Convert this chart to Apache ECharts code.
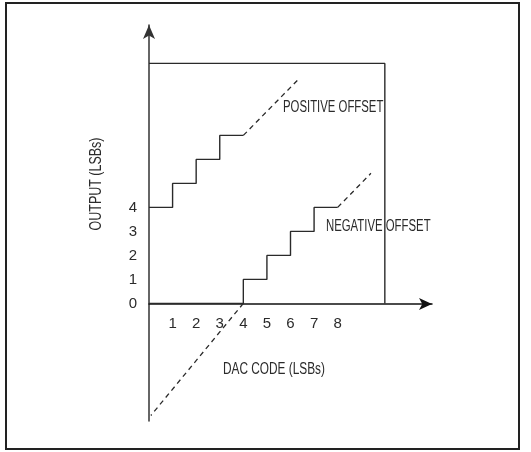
<!DOCTYPE html>
<html>
<head>
<meta charset="utf-8">
<script src="https://cdn.jsdelivr.net/npm/echarts@6/dist/echarts.min.js"></script>
<style>
html,body{margin:0;padding:0;background:#fff;}
#chart{width:531px;height:452px;}
</style>
</head>
<body>
<div id="chart"></div>
<script>
// Tick labels
var xTicks = [1, 2, 3, 4, 5, 6, 7, 8];
var yTicks = [0, 1, 2, 3, 4];
// Box outline (full-scale square)
var boxLine = [[0, 10], [10, 10], [10, 0]];
// Positive offset transfer function (staircase) and its dashed continuation
var positiveSteps = [[0, 4], [1, 5], [2, 6], [3, 7], [4, 7]];
var positiveDash = [[4, 7], [6.36, 9.36]];
// Negative offset transfer function (staircase) and its dashed continuations
var negativeSteps = [[0, 0], [4, 1], [5, 2], [6, 3], [7, 4], [8, 4]];
var negativeDashUp = [[8, 4], [9.41, 5.42]];
var negativeDashDown = [[4, 0], [0.08, -4.67]];
// Text
var xTitle = 'DAC CODE (LSBs)';
var yTitle = 'OUTPUT (LSBs)';
var posLabel = 'POSITIVE OFFSET';
var negLabel = 'NEGATIVE OFFSET';

var FONT = '"Liberation Sans Narrow", "Arial Narrow", "Liberation Sans", sans-serif';
var chart = echarts.init(document.getElementById('chart'));
var lineCol = '#2a2a2a';
var txtCol = '#2b2b2b';
function solid(data, step) {
  return {type: 'line', data: data, step: step || false, symbol: 'none', silent: true,
    lineStyle: {color: lineCol, width: 1.4}, z: 3};
}
function dashed(data) {
  return {type: 'line', data: data, symbol: 'none', silent: true,
    lineStyle: {color: lineCol, width: 1.3, type: [5, 4]}, z: 3};
}
chart.setOption({
  animation: false,
  backgroundColor: '#fff',
  grid: {left: 149, top: 25, width: 283, height: 396, containLabel: false},
  xAxis: {
    type: 'value', min: 0, max: 12, offset: -117,
    axisLine: {onZero: false, lineStyle: {color: '#111', width: 1.5},
      symbol: ['none', 'arrow'], symbolSize: [9, 13], symbolOffset: [0, 0]},
    axisTick: {show: false},
    splitLine: {show: false},
    axisLabel: {customValues: xTicks, margin: 12, fontSize: 15, color: txtCol, fontFamily: FONT}
  },
  yAxis: {
    type: 'value', min: -4.9, max: 11.6,
    axisLine: {lineStyle: {color: '#333', width: 1.5},
      symbol: ['none', 'arrow'], symbolSize: [9, 14], symbolOffset: [0, 0]},
    axisTick: {show: false},
    splitLine: {show: false},
    axisLabel: {customValues: yTicks, margin: 12, fontSize: 15, color: txtCol, fontFamily: FONT}
  },
  series: [
    solid(boxLine),
    solid(positiveSteps, 'end'),
    solid(negativeSteps, 'end'),
    dashed(positiveDash),
    dashed(negativeDashUp),
    dashed(negativeDashDown)
  ],
  graphic: [
    {type: 'rect', shape: {x: 6, y: 3, width: 513, height: 446}, silent: true,
      style: {fill: 'none', stroke: '#222', lineWidth: 2}},
    {type: 'text', x: 283, y: 108, scaleX: 0.71, silent: true,
      style: {text: posLabel, font: '16px ' + FONT, fill: txtCol, textVerticalAlign: 'middle'}},
    {type: 'text', x: 326, y: 227, scaleX: 0.71, silent: true,
      style: {text: negLabel, font: '16px ' + FONT, fill: txtCol, textVerticalAlign: 'middle'}},
    {type: 'text', x: 274, y: 370, scaleX: 0.74, silent: true,
      style: {text: xTitle, font: '16px ' + FONT, fill: txtCol, textAlign: 'center', textVerticalAlign: 'middle'}},
    {type: 'text', x: 97, y: 184, rotation: Math.PI / 2, scaleX: 0.78, silent: true,
      style: {text: yTitle, font: '16px ' + FONT, fill: txtCol, textAlign: 'center', textVerticalAlign: 'middle'}}
  ]
});
</script>
</body>
</html>
